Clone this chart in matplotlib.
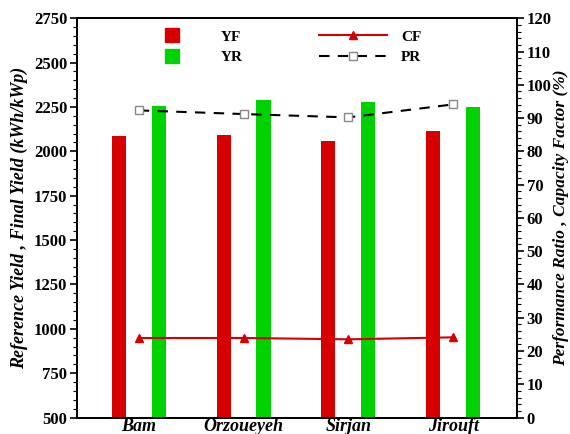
import matplotlib
matplotlib.use("Agg")
import matplotlib.pyplot as plt
import numpy as np
from matplotlib.lines import Line2D
from matplotlib.ticker import MultipleLocator

plt.rcParams['font.family'] = ['Liberation Serif', 'DejaVu Serif']
plt.rcParams['font.weight'] = 'bold'

# data
sites = ['Bam', 'Orzoueyeh', 'Sirjan', 'Jirouft']
yf = [2085, 2090, 2057, 2112]
yr = [2258, 2292, 2280, 2248]
cf = [23.9, 23.9, 23.5, 24.1]
pr = [92.3, 91.2, 90.2, 94.1]

red = '#d60000'
green = '#00d200'

fig = plt.figure(figsize=(5.7, 4.34), dpi=100)
ax = fig.add_axes([0.135, 0.038, 0.772, 0.92])
x = np.arange(len(sites))
w = 0.135
ax.bar(x - 0.19, yf, w, color=red, zorder=2)
ax.bar(x + 0.19, yr, w, color=green, zorder=2)
ax.set_xlim(-0.59, 3.61)
ax.set_ylim(500, 2750)
ax.yaxis.set_major_locator(MultipleLocator(250))
ax.yaxis.set_minor_locator(MultipleLocator(50))
ax.set_xticks(x)
ax.set_xticklabels(sites, fontsize=13, fontstyle='italic', fontweight='bold')
ax.tick_params(axis='x', length=0, pad=0)
ax.tick_params(axis='y', which='major', length=5, width=1.2, labelsize=12, direction='out', pad=2)
ax.tick_params(axis='y', which='minor', length=3, width=0.8, direction='out')
ax.set_ylabel('Reference Yield , Final Yield (kWh/kWp)', fontsize=13,
              fontstyle='italic', fontweight='bold', labelpad=4)

ax2 = ax.twinx()
ax2.plot(x, cf, color=red, lw=1.5, marker='^', ms=6, mfc=red, mec=red, zorder=3)
ax2.plot(x, pr, color='black', lw=1.5, ls=(0, (5, 4)), marker='s', ms=6,
         mfc='white', mec='#888888', zorder=3)
ax2.set_ylim(0, 120)
ax2.yaxis.set_major_locator(MultipleLocator(10))
ax2.yaxis.set_minor_locator(MultipleLocator(2))
ax2.tick_params(axis='y', which='major', length=5, width=1.2, labelsize=12, direction='out', pad=2)
ax2.tick_params(axis='y', which='minor', length=3, width=0.8, direction='out')
ax2.set_ylabel('Performance Ratio , Capacity Factor (%)', fontsize=12.5,
               fontstyle='italic', fontweight='bold', labelpad=1)

for a in (ax, ax2):
    for s in a.spines.values():
        s.set_linewidth(1.4)

handles = [
    Line2D([], [], ls='none', marker='s', ms=10, mfc=red, mec=red),
    Line2D([], [], ls='none', marker='s', ms=10, mfc=green, mec=green),
    Line2D([], [], color=red, lw=1.5, marker='^', ms=6, mfc=red, mec=red),
    Line2D([], [], color='black', lw=1.5, ls=(0, (5, 4)), marker='s', ms=6,
           mfc='white', mec='#888888'),
]
labels = ['YF', 'YR', 'CF', 'PR']
ax2.legend(handles, labels, ncol=2, loc='upper left', bbox_to_anchor=(0.107, 1.005),
           frameon=False, handlelength=4.5, handletextpad=0.9, columnspacing=5.0,
           labelspacing=0.45, prop={'family': 'Liberation Serif', 'weight': 'bold', 'size': 11})

fig.savefig('out.png', dpi=100)
